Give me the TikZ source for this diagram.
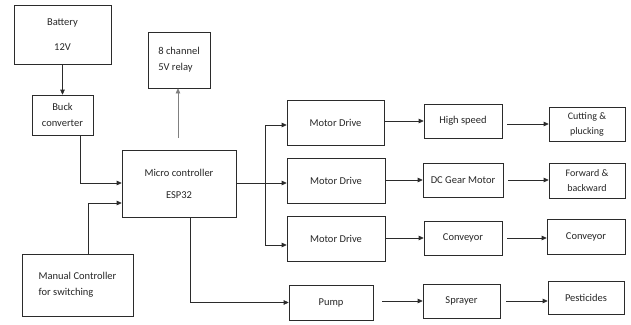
\documentclass[tikz,border=0pt]{standalone}
\usepackage{fontspec}
\setmainfont{Carlito}
\usetikzlibrary{arrows.meta}

\definecolor{linegray}{HTML}{2B2B2B}
\definecolor{textgray}{HTML}{262626}

\tikzset{
  box/.style={draw=linegray, line width=0.6pt, inner sep=0pt, align=center,
    text=textgray, font=\fontsize{10.5}{16}\selectfont},
  size/.style 2 args={minimum width=#1pt, minimum height=#2pt},
  arrow/.style={draw=linegray, line width=0.6pt, -{Triangle[length=5pt,width=4.5pt]}}
}

\begin{document}
\begin{tikzpicture}[x=1pt, y=-1pt]
  \useasboundingbox (0,0) rectangle (631,324);

  % left side
  \node[box, size={97}{59}] (batt) at (62.5,34.5) {Battery\\[9pt]12V};
  \node[box, size={61}{40}] (buck) at (62.5,115) {Buck\\converter};
  \node[box, size={62}{56}, align=left] (relay) at (179,60) {8 channel\\5V relay};
  \node[box, size={114}{67}] (micro) at (179,183.5) {Micro controller\\[6pt]ESP32};
  \node[box, size={111}{62}, align=left] (manual) at (77.5,285) {Manual Controller\\for switching};

  % motor drives and pump
  \node[box, size={97}{45}] (md1) at (335.5,122.5) {Motor Drive};
  \node[box, size={98}{45}] (md2) at (336,180.5) {Motor Drive};
  \node[box, size={98}{45}] (md3) at (336,238.5) {Motor Drive};
  \node[box, size={84}{35}] (pump) at (331,302.5) {Pump};

  % actuators
  \node[box, size={78}{34}] (hs) at (463,121) {High speed};
  \node[box, size={80}{34}] (dcg) at (463,180) {DC Gear Motor};
  \node[box, size={78}{34}] (conv) at (463,238) {Conveyor};
  \node[box, size={77}{34}] (spray) at (461.5,301) {Sprayer};

  % tasks
  \node[box, size={76}{34}, font=\fontsize{10}{15}\selectfont] (cut) at (587,124) {Cutting \&\\plucking};
  \node[box, size={76}{35}, font=\fontsize{10}{15}\selectfont] (fwd) at (587,180.5) {Forward \&\\backward};
  \node[box, size={78}{35}] (convout) at (586,236.5) {Conveyor};
  \node[box, size={76}{33}] (pest) at (586,297.5) {Pesticides};

  \coordinate (relayfoot) at (178,138);
  \coordinate (split) at (265,183);

  \draw[arrow] (batt) -- (buck);
  \draw[arrow] ([xshift=17.5pt]buck.south) |- ([yshift=0.5pt]micro.west);
  \draw[arrow] ([xshift=10.5pt]manual.north) |- ([yshift=-19.5pt]micro.west);
  \draw[arrow, draw=gray] (relayfoot) -- (relay.south -| relayfoot);

  \draw[arrow] (micro.east |- split) -- (md2.west |- split);
  \draw[arrow] (split) |- ([yshift=-2.5pt]md1.west);
  \draw[arrow] (split) |- ([yshift=-6.5pt]md3.west);
  \draw[arrow] ([xshift=11pt]micro.south) |- (pump.west);

  \draw[arrow] (md1.east |- hs) -- (hs.west);
  \draw[arrow] (md2.east |- dcg) -- (dcg.west);
  \draw[arrow] (md3.east |- conv) -- (conv.west);
  \draw[arrow, shorten <=9pt] (pump.east |- spray) -- (spray.west);

  \draw[arrow, shorten <=5pt] ([yshift=-3pt]hs.east) -- ([yshift=-3pt]hs.east -| cut.west);
  \draw[arrow, shorten <=5pt] (dcg.east) -- (dcg.east -| fwd.west);
  \draw[arrow, shorten <=5pt] (conv.east) -- (conv.east -| convout.west);
  \draw[arrow, shorten <=6pt] (spray.east) -- (spray.east -| pest.west);
\end{tikzpicture}
\end{document}
